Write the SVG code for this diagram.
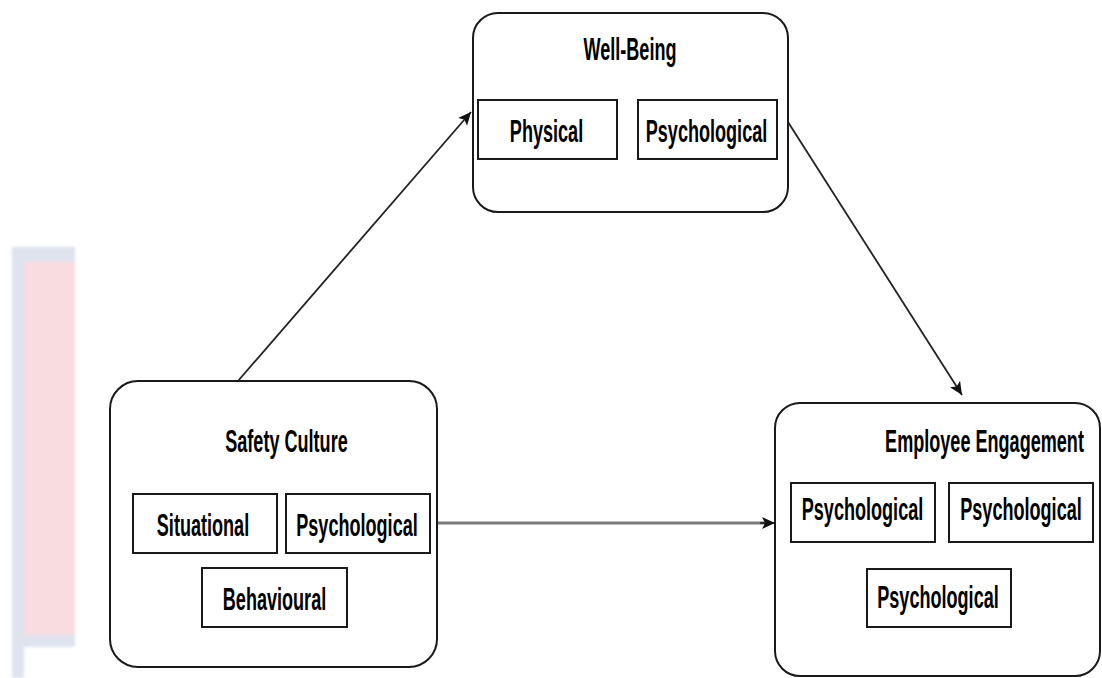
<svg xmlns="http://www.w3.org/2000/svg" width="1102" height="678" viewBox="0 0 1102 678">
<style>
.node{fill:#fff;stroke:#1a1a1a;stroke-width:2}
.sub{fill:#fff;stroke:#1a1a1a;stroke-width:2}
.lbl{font-family:"Liberation Sans",Arial,sans-serif;font-weight:bold;font-size:32px;fill:#000;text-anchor:middle}
.edge{fill:none;stroke:#222;stroke-width:1.8}
.edge-gray{fill:none;stroke:#7a7a7a;stroke-width:3}
</style>
<defs>
<marker id="arrow" markerUnits="userSpaceOnUse" markerWidth="16" markerHeight="14" refX="13" refY="6" orient="auto">
<path d="M0,0 L13,6 L0,12 L3,6 Z" fill="#111"/>
</marker>
<filter id="soft" x="-10%" y="-10%" width="120%" height="120%"><feGaussianBlur stdDeviation="1.5"/></filter>
</defs>
<rect width="1102" height="678" fill="#fff"/>
<g id="background" filter="url(#soft)">
<rect x="12" y="247" width="63" height="431" fill="#dfe3ee"/>
<rect x="24" y="262" width="51" height="373" fill="#f8dcdf"/>
<rect x="24" y="647" width="51" height="31" fill="#fff"/>
</g>
<g id="connectors">
<line class="edge" x1="238" y1="381" x2="471" y2="112" marker-end="url(#arrow)"/>
<line class="edge" x1="788" y1="122" x2="962" y2="395" marker-end="url(#arrow)"/>
<line class="edge-gray" x1="437" y1="523" x2="765" y2="523"/>
<line class="edge" x1="760" y1="523" x2="775" y2="523" marker-end="url(#arrow)"/>
</g>
<g id="safety-culture">
<rect class="node" x="110" y="381" width="327" height="286" rx="28"/>
<text class="lbl" transform="translate(286.5,452) scale(0.565,1)">Safety Culture</text>
<rect class="sub" x="133" y="494" width="144" height="59"/>
<text class="lbl" transform="translate(203,536) scale(0.565,1)">Situational</text>
<rect class="sub" x="286" y="494" width="144" height="59"/>
<text class="lbl" transform="translate(357,536) scale(0.565,1)">Psychological</text>
<rect class="sub" x="202" y="568" width="145" height="59"/>
<text class="lbl" transform="translate(274.5,610) scale(0.565,1)">Behavioural</text>
</g>
<g id="well-being">
<rect class="node" x="473" y="13" width="315" height="199" rx="25"/>
<text class="lbl" transform="translate(630,60) scale(0.565,1)">Well-Being</text>
<rect class="sub" x="478" y="100" width="139" height="59"/>
<text class="lbl" transform="translate(546.5,142) scale(0.565,1)">Physical</text>
<rect class="sub" x="638" y="100" width="139" height="59"/>
<text class="lbl" transform="translate(706.5,142) scale(0.565,1)">Psychological</text>
</g>
<g id="employee-engagement">
<rect class="node" x="775" y="403" width="325" height="273" rx="25"/>
<text class="lbl" transform="translate(984.5,452) scale(0.565,1)">Employee Engagement</text>
<rect class="sub" x="791" y="483" width="144" height="59"/>
<text class="lbl" transform="translate(862.5,520) scale(0.565,1)">Psychological</text>
<rect class="sub" x="949" y="483" width="144" height="59"/>
<text class="lbl" transform="translate(1021,520) scale(0.565,1)">Psychological</text>
<rect class="sub" x="867" y="569" width="144" height="58"/>
<text class="lbl" transform="translate(938,608) scale(0.565,1)">Psychological</text>
</g>
</svg>
